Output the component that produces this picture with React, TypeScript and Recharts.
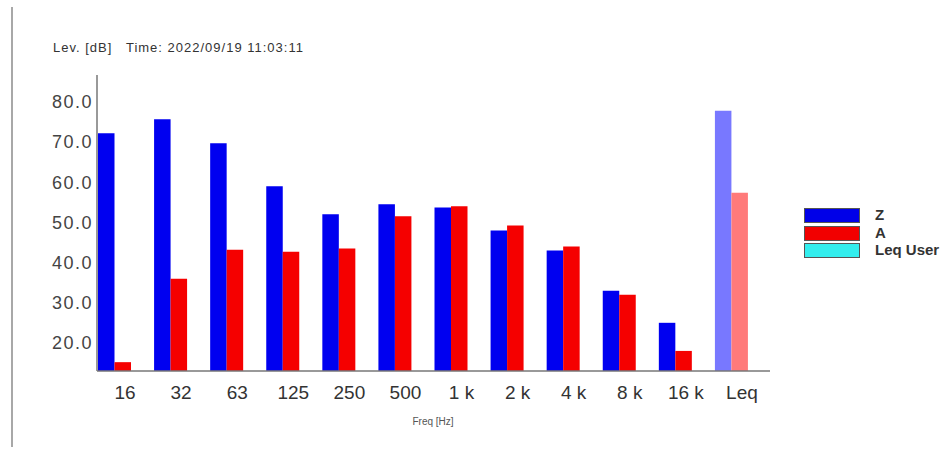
import React from 'react';
import { BarChart, Bar, XAxis, YAxis, Cell } from 'recharts';

// Octave band levels, last entry is the overall Leq
const bands = ['16', '32', '63', '125', '250', '500', '1 k', '2 k', '4 k', '8 k', '16 k', 'Leq'];
const levelZ = [72.2, 75.7, 69.7, 59.0, 52.0, 54.5, 53.7, 48.0, 43.0, 33.0, 25.0, 77.8];
const levelA = [15.2, 36.0, 43.2, 42.7, 43.5, 51.5, 54.0, 49.2, 44.0, 32.0, 18.0, 57.4];
const levelUser: (number | null)[] = [null, null, null, null, null, null, null, null, null, null, null, null];
const yTicks = [20, 30, 40, 50, 60, 70, 80];

const legendItems = [
  { name: 'Z', color: '#0000e8' },
  { name: 'A', color: '#f20000' },
  { name: 'Leq User', color: '#33eeee' },
];

const data = bands.map((band, i) => ({
  band,
  z: levelZ[i],
  a: levelA[i],
  user: levelUser[i],
}));

const font = 'Arial, "Liberation Sans", sans-serif';

export default function App() {
  const lastIdx = bands.length - 1;
  return (
    <div style={{ position: 'absolute', left: 0, top: 0, width: 947, height: 457, background: '#fff', fontFamily: font }}>
      <div style={{ position: 'absolute', left: 11, top: 7, width: 2, height: 440, background: '#a8a8a8' }} />
      <div style={{ position: 'absolute', left: 53, top: 40, fontSize: 13, letterSpacing: 1, color: '#333', whiteSpace: 'pre' }}>
        {'Lev. [dB]   Time: 2022/09/19 11:03:11'}
      </div>

      <BarChart
        width={947}
        height={457}
        data={data}
        margin={{ top: 75, right: 177, bottom: 56, left: 0 }}
        barGap={0}
        barCategoryGap={0}
        style={{ position: 'absolute', left: 0, top: 0 }}
      >
        <XAxis
          dataKey="band"
          height={30}
          axisLine={{ stroke: '#777', strokeWidth: 1.5 }}
          tickLine={false}
          tickSize={6}
          tickMargin={9}
          interval={0}
          tick={{ fontSize: 19, fill: '#333', fontFamily: font }}
        />
        <YAxis
          width={97}
          domain={[13, 86.7]}
          ticks={yTicks}
          allowDataOverflow
          axisLine={{ stroke: '#777', strokeWidth: 1.5 }}
          tickLine={false}
          tickSize={4}
          tickMargin={0}
          tickFormatter={(v: number) => v.toFixed(1)}
          tick={{ fontSize: 18, fill: '#444', fontFamily: font, letterSpacing: 1.5 }}
        />
        <Bar dataKey="z" barSize={16.5} fill="#0000f0" isAnimationActive={false}>
          {data.map((_, i) => (
            <Cell key={i} fill={i === lastIdx ? '#7878ff' : '#0000f0'} />
          ))}
        </Bar>
        <Bar dataKey="a" barSize={16.5} fill="#f50000" isAnimationActive={false}>
          {data.map((_, i) => (
            <Cell key={i} fill={i === lastIdx ? '#ff7a7a' : '#f50000'} />
          ))}
        </Bar>
        <Bar dataKey="user" barSize={21} fill="#33eeee" isAnimationActive={false} />
      </BarChart>

      <div style={{ position: 'absolute', left: 0, top: 416, width: 866, textAlign: 'center', fontSize: 10, color: '#555' }}>
        Freq [Hz]
      </div>

      {legendItems.map((item, i) => (
        <React.Fragment key={item.name}>
          <div
            style={{
              position: 'absolute',
              left: 804,
              top: 208 + i * 17.5,
              width: 54,
              height: 13,
              background: item.color,
              border: '1px solid #555',
            }}
          />
          <div
            style={{
              position: 'absolute',
              left: 875,
              top: 206 + i * 17.5,
              fontSize: 15,
              fontWeight: 'bold',
              color: '#333',
              lineHeight: '18px',
            }}
          >
            {item.name}
          </div>
        </React.Fragment>
      ))}
    </div>
  );
}
